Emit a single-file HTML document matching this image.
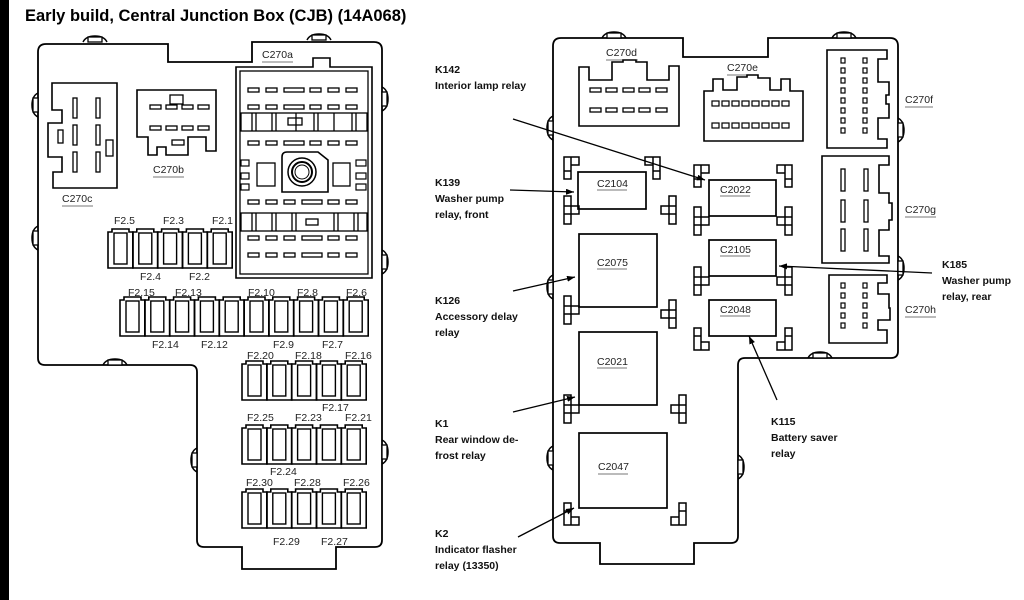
<!DOCTYPE html>
<html><head><meta charset="utf-8"><style>
html,body{margin:0;padding:0;background:#fff;}
svg{display:block;}
text{font-family:"Liberation Sans",sans-serif;}
.l{font-size:10.5px;fill:#222;}
.k{font-size:10.5px;font-weight:bold;fill:#111;}
</style></head><body>
<svg width="1024" height="600" viewBox="0 0 1024 600" xmlns="http://www.w3.org/2000/svg">
<defs>
<marker id="ah" markerWidth="8" markerHeight="6" refX="8" refY="3" orient="auto" markerUnits="userSpaceOnUse"><path d="M0,0 L8,3 L0,6 z" fill="#000"/></marker>
<g id="fuse"><path d="M0,4 h4 v-3 h17 v3 h4 v36 h-25 z" fill="none" stroke="#000" stroke-width="1.6"/><rect x="6" y="5" width="13" height="31" fill="none" stroke="#000" stroke-width="1.4"/></g>
<g id="tabL"><path d="M0,0 q-6,3 -6,12 q0,9 6,12" fill="none" stroke="#000" stroke-width="1.5"/><rect x="-5" y="5" width="5" height="14" fill="#fff" stroke="#000" stroke-width="1.3"/></g>
<g id="tabT"><path d="M0,0 q3,-6 12,-6 q9,0 12,6" fill="none" stroke="#000" stroke-width="1.5"/><rect x="5" y="-5" width="14" height="5" fill="#fff" stroke="#000" stroke-width="1.3"/></g>
<g id="slot"><rect width="11" height="4" fill="none" stroke="#000" stroke-width="1.3"/></g>
<g id="sq"><rect width="6" height="6" fill="none" stroke="#000" stroke-width="1.3"/></g>
<g id="clipTL"><path d="M0,0 h15 v8 h-8 v14 h-7 z M7,0 v8 M0,14 h7" fill="none" stroke="#000" stroke-width="1.5"/></g>
<g id="clipT"><path d="M0,0 h7 v10 h8 v8 h-8 v10 h-7 z M0,18 h7 M0,10 h7 M7,10 v8" fill="none" stroke="#000" stroke-width="1.5"/></g>
</defs>
<rect x="0" y="0" width="9" height="600" fill="#000"/>
<text x="25" y="21" style="font-size:16.5px;font-weight:bold" fill="#000">Early build, Central Junction Box (CJB) (14A068)</text>

<!-- LEFT BOX -->
<path d="M46,44 H168 V62 H252 V42 H374 Q382,42 382,50 V540 Q382,547 375,547 H336 V569 H242 V547 H204 Q197,547 197,540 V372 Q197,365 190,365 H45 Q38,365 38,358 V52 Q38,44 46,44 Z" fill="none" stroke="#000" stroke-width="1.8"/>
<use href="#tabT" x="83" y="42"/><use href="#tabT" x="307" y="40"/><use href="#tabT" x="103" y="365"/>
<use href="#tabL" x="38" y="93"/><use href="#tabL" x="38" y="226"/><use href="#tabL" x="197" y="448"/>
<g transform="translate(382,0) scale(-1,1)"><use href="#tabL" x="0" y="87"/><use href="#tabL" x="0" y="250"/><use href="#tabL" x="0" y="440"/></g>

<!-- C270c -->
<path d="M52,83 H117 V188 H53 V172 H62 V157 H48 V123 H62 V110 H52 Z" fill="none" stroke="#000" stroke-width="1.6"/>
<rect x="73" y="98" width="4" height="20" fill="none" stroke="#000" stroke-width="1.3"/><rect x="96" y="98" width="4" height="20" fill="none" stroke="#000" stroke-width="1.3"/>
<rect x="73" y="125" width="4" height="20" fill="none" stroke="#000" stroke-width="1.3"/><rect x="96" y="125" width="4" height="20" fill="none" stroke="#000" stroke-width="1.3"/>
<rect x="73" y="152" width="4" height="20" fill="none" stroke="#000" stroke-width="1.3"/><rect x="96" y="152" width="4" height="20" fill="none" stroke="#000" stroke-width="1.3"/>
<rect x="58" y="130" width="5" height="13" fill="none" stroke="#000" stroke-width="1.3"/><rect x="106" y="140" width="7" height="16" fill="none" stroke="#000" stroke-width="1.3"/>
<text class="l" x="62" y="202">C270c</text><line x1="62" y1="206" x2="93" y2="206" stroke="#777"/>
<!-- C270b -->
<path d="M137,90 H216 V151 H206 V137 H188 V155 H166 V147 H157 V155 H148 V137 H137 Z" fill="none" stroke="#000" stroke-width="1.6"/>
<rect x="170" y="95" width="13" height="9" fill="none" stroke="#000" stroke-width="1.3"/>
<use href="#slot" x="150" y="105"/><use href="#slot" x="166" y="105"/><use href="#slot" x="182" y="105"/><use href="#slot" x="198" y="105"/>
<use href="#slot" x="150" y="126"/><use href="#slot" x="166" y="126"/><use href="#slot" x="182" y="126"/><use href="#slot" x="198" y="126"/>
<rect x="172" y="140" width="12" height="5" fill="none" stroke="#000" stroke-width="1.3"/>
<text class="l" x="153" y="173">C270b</text><line x1="153" y1="177" x2="184" y2="177" stroke="#777"/>

<!-- C270a -->
<text class="l" x="262" y="58">C270a</text><line x1="262" y1="62" x2="293" y2="62" stroke="#777"/>
<path d="M236,67 H313 V58 H330 V67 H372 V278 H236 Z" fill="none" stroke="#000" stroke-width="1.6"/>
<rect x="240" y="71" width="128" height="203" fill="none" stroke="#000" stroke-width="1.3"/>
<g>
<use href="#slot" x="248" y="88"/><use href="#slot" x="266" y="88"/><rect x="284" y="88" width="20" height="4" fill="none" stroke="#000" stroke-width="1.3"/><use href="#slot" x="310" y="88"/><use href="#slot" x="328" y="88"/><use href="#slot" x="346" y="88"/>
<use href="#slot" x="248" y="105"/><use href="#slot" x="266" y="105"/><rect x="284" y="105" width="20" height="4" fill="none" stroke="#000" stroke-width="1.3"/><use href="#slot" x="310" y="105"/><use href="#slot" x="328" y="105"/><use href="#slot" x="346" y="105"/>
<use href="#slot" x="248" y="141"/><use href="#slot" x="266" y="141"/><rect x="284" y="141" width="20" height="4" fill="none" stroke="#000" stroke-width="1.3"/><use href="#slot" x="310" y="141"/><use href="#slot" x="328" y="141"/><use href="#slot" x="346" y="141"/>
<use href="#slot" x="248" y="200"/><use href="#slot" x="266" y="200"/><use href="#slot" x="284" y="200"/><rect x="302" y="200" width="20" height="4" fill="none" stroke="#000" stroke-width="1.3"/><use href="#slot" x="328" y="200"/><use href="#slot" x="346" y="200"/>
<use href="#slot" x="248" y="236"/><use href="#slot" x="266" y="236"/><use href="#slot" x="284" y="236"/><rect x="302" y="236" width="20" height="4" fill="none" stroke="#000" stroke-width="1.3"/><use href="#slot" x="328" y="236"/><use href="#slot" x="346" y="236"/>
<use href="#slot" x="248" y="253"/><use href="#slot" x="266" y="253"/><use href="#slot" x="284" y="253"/><rect x="302" y="253" width="20" height="4" fill="none" stroke="#000" stroke-width="1.3"/><use href="#slot" x="328" y="253"/><use href="#slot" x="346" y="253"/>
</g>
<rect x="241" y="113" width="126" height="18" fill="none" stroke="#000" stroke-width="1.3"/>
<path d="M252,113v18 M256,113v18 M272,113v18 M276,113v18 M296,113v18 M314,113v18 M318,113v18 M334,113v18 M352,113v18 M356,113v18" stroke="#000" stroke-width="1.3"/>
<rect x="288" y="118" width="14" height="7" fill="none" stroke="#000" stroke-width="1.3"/>
<rect x="241" y="213" width="126" height="18" fill="none" stroke="#000" stroke-width="1.3"/>
<path d="M252,213v18 M256,213v18 M272,213v18 M276,213v18 M292,213v18 M296,213v18 M334,213v18 M338,213v18 M354,213v18 M358,213v18" stroke="#000" stroke-width="1.3"/>
<rect x="306" y="219" width="12" height="6" fill="none" stroke="#000" stroke-width="1.3"/>
<rect x="241" y="160" width="8" height="6" fill="none" stroke="#000" stroke-width="1.2"/><rect x="241" y="173" width="8" height="6" fill="none" stroke="#000" stroke-width="1.2"/><rect x="241" y="184" width="8" height="6" fill="none" stroke="#000" stroke-width="1.2"/>
<rect x="356" y="160" width="10" height="6" fill="none" stroke="#000" stroke-width="1.2"/><rect x="356" y="173" width="10" height="6" fill="none" stroke="#000" stroke-width="1.2"/><rect x="356" y="184" width="10" height="6" fill="none" stroke="#000" stroke-width="1.2"/>
<rect x="257" y="163" width="18" height="23" fill="none" stroke="#000" stroke-width="1.3"/><rect x="333" y="163" width="17" height="23" fill="none" stroke="#000" stroke-width="1.3"/>
<path d="M282,157 Q282,152 287,152 H318 L328,160 V192 H282 Z" fill="none" stroke="#000" stroke-width="1.6"/>
<circle cx="302" cy="172" r="14" fill="none" stroke="#000" stroke-width="1.5"/><circle cx="302" cy="172" r="10" fill="none" stroke="#000" stroke-width="2"/><circle cx="302" cy="172" r="7" fill="none" stroke="#000" stroke-width="1"/>

<!-- fuses row1 -->
<g><use href="#fuse" x="108" y="228"/><use href="#fuse" x="132.8" y="228"/><use href="#fuse" x="157.6" y="228"/><use href="#fuse" x="182.4" y="228"/><use href="#fuse" x="207.2" y="228"/></g>
<text class="l" x="114" y="224">F2.5</text><text class="l" x="163" y="224">F2.3</text><text class="l" x="212" y="224">F2.1</text>
<text class="l" x="140" y="280">F2.4</text><text class="l" x="189" y="280">F2.2</text>
<!-- row2 -->
<g><use href="#fuse" x="120" y="296"/><use href="#fuse" x="144.8" y="296"/><use href="#fuse" x="169.6" y="296"/><use href="#fuse" x="194.4" y="296"/><use href="#fuse" x="219.2" y="296"/><use href="#fuse" x="244" y="296"/><use href="#fuse" x="268.8" y="296"/><use href="#fuse" x="293.6" y="296"/><use href="#fuse" x="318.4" y="296"/><use href="#fuse" x="343.2" y="296"/></g>
<text class="l" x="128" y="296">F2.15</text><text class="l" x="175" y="296">F2.13</text><text class="l" x="248" y="296">F2.10</text><text class="l" x="297" y="296">F2.8</text><text class="l" x="346" y="296">F2.6</text>
<text class="l" x="152" y="348">F2.14</text><text class="l" x="201" y="348">F2.12</text><text class="l" x="273" y="348">F2.9</text><text class="l" x="322" y="348">F2.7</text>
<!-- row3 -->
<g><use href="#fuse" x="242" y="360"/><use href="#fuse" x="266.8" y="360"/><use href="#fuse" x="291.6" y="360"/><use href="#fuse" x="316.4" y="360"/><use href="#fuse" x="341.2" y="360"/></g>
<text class="l" x="247" y="359">F2.20</text><text class="l" x="295" y="359">F2.18</text><text class="l" x="345" y="359">F2.16</text>
<text class="l" x="322" y="411">F2.17</text>
<g><use href="#fuse" x="242" y="424"/><use href="#fuse" x="266.8" y="424"/><use href="#fuse" x="291.6" y="424"/><use href="#fuse" x="316.4" y="424"/><use href="#fuse" x="341.2" y="424"/></g>
<text class="l" x="247" y="421">F2.25</text><text class="l" x="295" y="421">F2.23</text><text class="l" x="345" y="421">F2.21</text>
<text class="l" x="270" y="475">F2.24</text>
<g><use href="#fuse" x="242" y="488"/><use href="#fuse" x="266.8" y="488"/><use href="#fuse" x="291.6" y="488"/><use href="#fuse" x="316.4" y="488"/><use href="#fuse" x="341.2" y="488"/></g>
<text class="l" x="246" y="486">F2.30</text><text class="l" x="294" y="486">F2.28</text><text class="l" x="343" y="486">F2.26</text>
<text class="l" x="273" y="545">F2.29</text><text class="l" x="321" y="545">F2.27</text>

<!-- RIGHT BOX -->
<path d="M561,38 H683 V57 H768 V38 H890 Q898,38 898,46 V351 Q898,358 891,358 H745 Q738,358 738,365 V536 Q738,543 731,543 H694 V564 H600 V543 H560 Q553,543 553,536 V46 Q553,38 561,38 Z" fill="none" stroke="#000" stroke-width="1.8"/>
<use href="#tabT" x="602" y="38"/><use href="#tabT" x="832" y="38"/><use href="#tabT" x="808" y="358"/>
<use href="#tabL" x="553" y="116"/><use href="#tabL" x="553" y="275"/><use href="#tabL" x="553" y="446"/>
<g transform="translate(898,0) scale(-1,1)"><use href="#tabL" x="0" y="118"/><use href="#tabL" x="0" y="256"/></g>
<g transform="translate(738,0) scale(-1,1)"><use href="#tabL" x="0" y="455"/></g>

<!-- C270d -->
<text class="l" x="606" y="56">C270d</text><line x1="606" y1="60" x2="638" y2="60" stroke="#777"/>
<path d="M579,67 H589 V80 H612 V62 H623 V60 H636 V62 H647 V80 H669 V66 H679 V126 H579 Z" fill="none" stroke="#000" stroke-width="1.6"/>
<use href="#slot" x="590" y="88"/><use href="#slot" x="606" y="88"/><use href="#slot" x="623" y="88"/><use href="#slot" x="639" y="88"/><use href="#slot" x="656" y="88"/>
<use href="#slot" x="590" y="108"/><use href="#slot" x="606" y="108"/><use href="#slot" x="623" y="108"/><use href="#slot" x="639" y="108"/><use href="#slot" x="656" y="108"/>
<!-- C270e -->
<text class="l" x="727" y="71">C270e</text><line x1="727" y1="75" x2="758" y2="75" stroke="#777"/>
<path d="M704,91 H713 V79 H723 V90 H737 V77 H747 V75 H758 V78 H770 V90 H781 V79 H790 V91 H803 V141 H704 Z" fill="none" stroke="#000" stroke-width="1.6"/>
<g fill="none" stroke="#000" stroke-width="1.2">
<rect x="712" y="101" width="7" height="5"/><rect x="722" y="101" width="7" height="5"/><rect x="732" y="101" width="7" height="5"/><rect x="742" y="101" width="7" height="5"/><rect x="752" y="101" width="7" height="5"/><rect x="762" y="101" width="7" height="5"/><rect x="772" y="101" width="7" height="5"/><rect x="782" y="101" width="7" height="5"/>
<rect x="712" y="123" width="7" height="5"/><rect x="722" y="123" width="7" height="5"/><rect x="732" y="123" width="7" height="5"/><rect x="742" y="123" width="7" height="5"/><rect x="752" y="123" width="7" height="5"/><rect x="762" y="123" width="7" height="5"/><rect x="772" y="123" width="7" height="5"/><rect x="782" y="123" width="7" height="5"/>
</g>
<!-- C270f -->
<path d="M827,50 H887 V59 H878 V82 H889 V95 H886 V104 H889 V118 H878 V139 H887 V148 H827 Z" fill="none" stroke="#000" stroke-width="1.6"/>
<g fill="none" stroke="#000" stroke-width="1.2">
<rect x="841" y="58" width="4" height="5"/><rect x="841" y="68" width="4" height="5"/><rect x="841" y="78" width="4" height="5"/><rect x="841" y="88" width="4" height="5"/><rect x="841" y="98" width="4" height="5"/><rect x="841" y="108" width="4" height="5"/><rect x="841" y="118" width="4" height="5"/><rect x="841" y="128" width="4" height="5"/>
<rect x="863" y="58" width="4" height="5"/><rect x="863" y="68" width="4" height="5"/><rect x="863" y="78" width="4" height="5"/><rect x="863" y="88" width="4" height="5"/><rect x="863" y="98" width="4" height="5"/><rect x="863" y="108" width="4" height="5"/><rect x="863" y="118" width="4" height="5"/><rect x="863" y="128" width="4" height="5"/>
</g>
<text class="l" x="905" y="103">C270f</text><line x1="905" y1="107" x2="933" y2="107" stroke="#777"/>
<!-- C270g -->
<path d="M822,156 H889 V165 H879 V193 H889 V203 H892 V220 H889 V230 H879 V256 H889 V263 H822 Z" fill="none" stroke="#000" stroke-width="1.6"/>
<g fill="none" stroke="#000" stroke-width="1.3">
<rect x="841" y="169" width="4" height="22"/><rect x="864" y="169" width="4" height="22"/>
<rect x="841" y="200" width="4" height="22"/><rect x="864" y="200" width="4" height="22"/>
<rect x="841" y="229" width="4" height="22"/><rect x="864" y="229" width="4" height="22"/>
</g>
<text class="l" x="905" y="213">C270g</text><line x1="905" y1="217" x2="936" y2="217" stroke="#777"/>
<!-- C270h -->
<path d="M829,275 H887 V283 H878 V294 H889 V308 H890 V320 H878 V330 H887 V343 H829 Z" fill="none" stroke="#000" stroke-width="1.6"/>
<g fill="none" stroke="#000" stroke-width="1.2">
<rect x="841" y="283" width="4" height="5"/><rect x="841" y="293" width="4" height="5"/><rect x="841" y="303" width="4" height="5"/><rect x="841" y="313" width="4" height="5"/><rect x="841" y="323" width="4" height="5"/>
<rect x="863" y="283" width="4" height="5"/><rect x="863" y="293" width="4" height="5"/><rect x="863" y="303" width="4" height="5"/><rect x="863" y="313" width="4" height="5"/><rect x="863" y="323" width="4" height="5"/>
</g>
<text class="l" x="905" y="313">C270h</text><line x1="905" y1="317" x2="936" y2="317" stroke="#777"/>

<!-- relays -->
<g fill="none" stroke="#000" stroke-width="1.7">
<rect x="578" y="172" width="68" height="37"/>
<rect x="579" y="234" width="78" height="73"/>
<rect x="579" y="332" width="78" height="73"/>
<rect x="579" y="433" width="88" height="75"/>
<rect x="709" y="180" width="67" height="36"/>
<rect x="709" y="240" width="67" height="36"/>
<rect x="709" y="300" width="67" height="36"/>
</g>
<text class="l" x="597" y="187">C2104</text><line x1="597" y1="190" x2="627" y2="190" stroke="#777"/>
<text class="l" x="597" y="266">C2075</text><line x1="597" y1="269" x2="627" y2="269" stroke="#777"/>
<text class="l" x="597" y="365">C2021</text><line x1="597" y1="368" x2="627" y2="368" stroke="#777"/>
<text class="l" x="598" y="470">C2047</text><line x1="598" y1="474" x2="628" y2="474" stroke="#777"/>
<text class="l" x="720" y="193">C2022</text><line x1="720" y1="196" x2="750" y2="196" stroke="#777"/>
<text class="l" x="720" y="253">C2105</text><line x1="720" y1="256" x2="750" y2="256" stroke="#777"/>
<text class="l" x="720" y="313">C2048</text><line x1="720" y1="316" x2="750" y2="316" stroke="#777"/>

<!-- relay clips (approx) -->
<g>
<use href="#clipTL" x="564" y="157"/><g transform="translate(660,157) scale(-1,1)"><use href="#clipTL"/></g>
<use href="#clipT" x="564" y="196"/><g transform="translate(676,196) scale(-1,1)"><use href="#clipT"/></g>
<use href="#clipT" x="564" y="296"/><g transform="translate(676,300) scale(-1,1)"><use href="#clipT"/></g>
<use href="#clipT" x="564" y="395"/><g transform="translate(686,395) scale(-1,1)"><use href="#clipT"/></g>
<g transform="translate(564,525) scale(1,-1)"><use href="#clipTL"/></g><g transform="translate(686,525) scale(-1,-1)"><use href="#clipTL"/></g>
<use href="#clipTL" x="694" y="165"/><g transform="translate(792,165) scale(-1,1)"><use href="#clipTL"/></g>
<use href="#clipT" x="694" y="207"/><g transform="translate(792,207) scale(-1,1)"><use href="#clipT"/></g>
<use href="#clipT" x="694" y="267"/><g transform="translate(792,267) scale(-1,1)"><use href="#clipT"/></g>
<g transform="translate(694,350) scale(1,-1)"><use href="#clipTL"/></g><g transform="translate(792,350) scale(-1,-1)"><use href="#clipTL"/></g>
</g>

<!-- callouts -->
<g stroke="#000" stroke-width="1.3" marker-end="url(#ah)">
<line x1="513" y1="119" x2="705" y2="180"/>
<line x1="510" y1="190" x2="574" y2="192"/>
<line x1="513" y1="291" x2="575" y2="277"/>
<line x1="513" y1="412" x2="575" y2="397"/>
<line x1="518" y1="537" x2="574" y2="508"/>
<line x1="932" y1="273" x2="779" y2="266"/>
<line x1="777" y1="400" x2="749" y2="336"/>
</g>
<text class="k" x="435" y="73">K142</text><text class="k" x="435" y="89">Interior lamp relay</text>
<text class="k" x="435" y="186">K139</text><text class="k" x="435" y="202">Washer pump</text><text class="k" x="435" y="218">relay, front</text>
<text class="k" x="435" y="304">K126</text><text class="k" x="435" y="320">Accessory delay</text><text class="k" x="435" y="336">relay</text>
<text class="k" x="435" y="427">K1</text><text class="k" x="435" y="443">Rear window de-</text><text class="k" x="435" y="459">frost relay</text>
<text class="k" x="435" y="537">K2</text><text class="k" x="435" y="553">Indicator flasher</text><text class="k" x="435" y="569">relay (13350)</text>
<text class="k" x="942" y="268">K185</text><text class="k" x="942" y="284">Washer pump</text><text class="k" x="942" y="300">relay, rear</text>
<text class="k" x="771" y="425">K115</text><text class="k" x="771" y="441">Battery saver</text><text class="k" x="771" y="457">relay</text>
</svg>
</body></html>
